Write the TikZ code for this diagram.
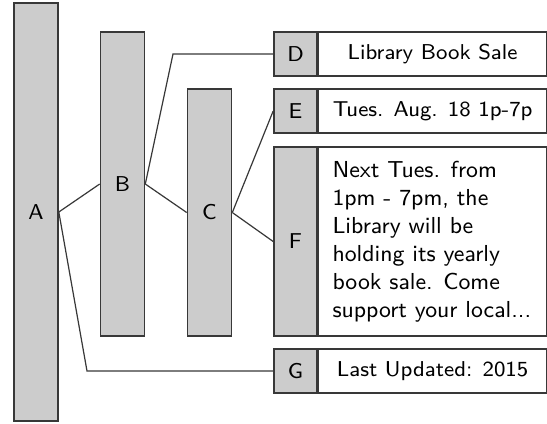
\documentclass[tikz,border=0pt]{standalone}
\definecolor{boxgray}{HTML}{CCCCCC}
\definecolor{edgegray}{HTML}{383838}
% one drawing unit
\newcommand\pxl{0.372pt}
\begin{document}
\begin{tikzpicture}[x=\pxl,y=-\pxl,
  font=\sffamily\fontsize{8}{10.42}\selectfont,
  box/.style={draw=edgegray,line width=0.6pt,rectangle,inner sep=0pt},
  bar/.style={box,fill=boxgray,minimum width={44*\pxl}},
  tag/.style={box,fill=boxgray,minimum width={43*\pxl}},
  txt/.style={box,fill=white,minimum width={228*\pxl},anchor=west},
  link/.style={draw=edgegray,line width=0.45pt}]
\useasboundingbox (0,0) rectangle (547,423);
% tall bars of the tree
\node[bar,minimum height={418*\pxl}] (A) at (36,212) {A};
\node[bar,minimum height={304*\pxl}] (B) at (122.5,184) {B};
\node[bar,minimum height={247*\pxl}] (C) at (209.5,212.5) {C};
% leaf entries: grey tag plus white text field
\node[tag,minimum height={44*\pxl}] (D) at (295.5,54) {D};
\node[txt,minimum height={44*\pxl}] (Dt) at (D.east) {Library Book Sale};
\node[tag,minimum height={44*\pxl}] (E) at (295.5,111) {E};
\node[txt,minimum height={44*\pxl}] (Et) at (E.east) {Tues. Aug. 18 1p-7p};
\node[tag,minimum height={189*\pxl}] (F) at (295.5,241.5) {F};
\node[txt,minimum height={189*\pxl}] (Ft) at (F.east) {};
\node[anchor=west,align=left,inner sep=0pt,
  font=\sffamily\fontsize{8.6}{10.42}\selectfont] (Fbody) at (332,241.5)
  {Next Tues. from\\1pm - 7pm, the\\Library will be\\holding its yearly\\book sale. Come\\support your local...};
\node[tag,minimum height={44*\pxl}] (G) at (295.5,371) {G};
\node[txt,minimum height={44*\pxl}] (Gt) at (G.east) {Last Updated: 2015};
% connectors
\coordinate (kA) at (87,371);
\coordinate (kB) at (173,54);
\draw[link] (A.east) -- (B.west);
\draw[link] (A.east) -- (kA) -- (G.west);
\draw[link] (B.east) -- (kB) -- (D.west);
\draw[link] (B.east) -- (C.west);
\draw[link] (C.east) -- (E.west);
\draw[link] (C.east) -- (F.west);
\end{tikzpicture}
\end{document}
